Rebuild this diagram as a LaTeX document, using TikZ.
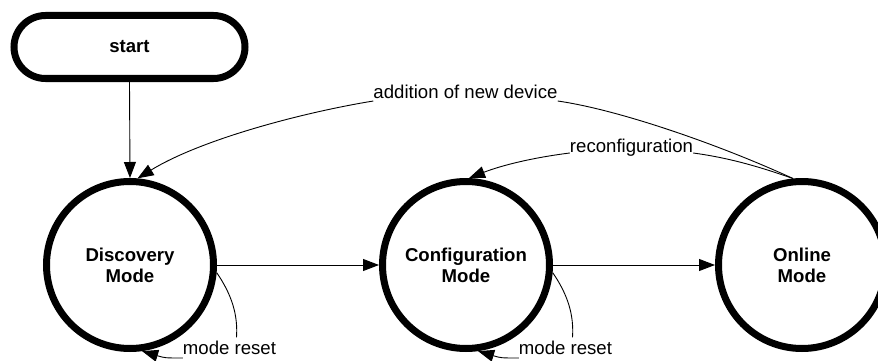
\documentclass[tikz,border=0pt]{standalone}
\usepackage{fontspec}
\setmainfont{Liberation Sans}
\usetikzlibrary{arrows.meta}
\begin{document}
\begin{tikzpicture}[x=1pt,y=-1pt,
  state/.style={circle,draw,line width=7pt,minimum size=167pt,inner sep=0pt,align=center,font=\fontsize{18.6}{21}\selectfont\bfseries},
  startbox/.style={draw,line width=7pt,rounded corners=31.5pt,minimum width=231pt,minimum height=63pt,inner sep=0pt,font=\fontsize{18.6}{21}\selectfont\bfseries},
  conn/.style={line width=0.9pt,-{Triangle[length=16pt,width=12pt]}},
  plain/.style={line width=0.9pt},
  lbl/.style={font=\fontsize{18.6}{21}\selectfont,inner xsep=0pt,inner ysep=3pt}]
\useasboundingbox (0,0) rectangle (878,361);
\fill[white] (0,0) rectangle (878,361);
\node[startbox] (start) at (129.5,47) {start};
\node[state] (disc) at (130,265) {Discovery\\Mode};
\node[state] (conf) at (466,265) {Configuration\\Mode};
\node[state] (onl) at (802,265) {Online\\Mode};
\node[lbl,anchor=base] (ladd) at (465.5,99) {addition of new device};
\node[lbl,anchor=base] (lrec) at (631.5,152) {reconfiguration};
\node[lbl,anchor=base] (lmr1) at (229.5,354) {mode reset};
\node[lbl,anchor=base] (lmr2) at (565.5,354) {mode reset};
\draw[conn] (start.south) -- (disc.north);
\draw[conn] (disc.east) -- (conf.west);
\draw[conn] (conf.east) -- (onl.west);
\draw[plain] (onl.96) .. controls (720,145) and (620,110) .. ([yshift=-2pt]ladd.base east);
\draw[conn] ([yshift=-2pt]ladd.base west) .. controls (300,113) and (200,140) .. (disc.85);
\draw[plain] (onl.96) .. controls (760,167) and (730,158) .. ([yshift=-1pt]lrec.base east);
\draw[conn] ([yshift=-1pt]lrec.base west) .. controls (530,158) and (500,166) .. (conf.88);
\draw[plain] (disc.-5) .. controls (232,295) and (238,315) .. ([xshift=7pt]lmr1.north);
\draw[conn] ([yshift=-4pt]lmr1.base west) .. controls (165,358) .. (disc.-82);
\draw[plain] (conf.-5) .. controls (568,295) and (574,315) .. ([xshift=7pt]lmr2.north);
\draw[conn] ([yshift=-4pt]lmr2.base west) .. controls (501,358) .. (conf.-82);
\end{tikzpicture}
\end{document}
